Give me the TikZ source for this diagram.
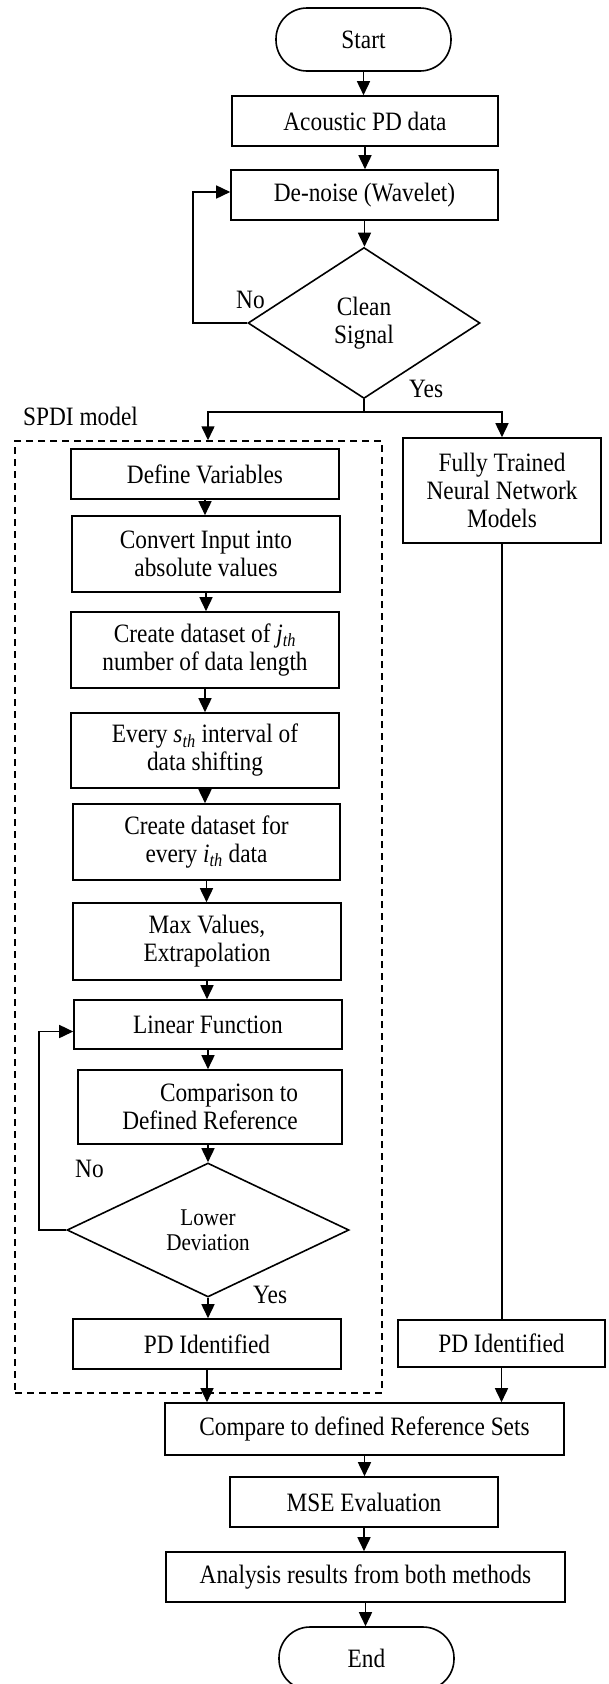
\documentclass[tikz,border=0pt]{standalone}
\usepackage{fontspec}
\setmainfont{Liberation Serif}[FakeStretch=0.88]
\usetikzlibrary{shapes.geometric,arrows.meta,calc}
\begin{document}
\begin{tikzpicture}[x=1pt,y=-1pt,
  txt/.style={font=\fontsize{26.5}{28}\selectfont},
  box/.style={draw,line width=1.6pt,rectangle,inner sep=0pt,align=center,txt},
  term/.style={box,rounded corners=31pt},
  dec/.style={draw,line width=1.6pt,diamond,inner sep=0pt,align=center},
  arr/.style={line width=1.6pt,-{Triangle[width=13pt,length=14pt]}},
  conn/.style={line width=1.6pt},
  lbl/.style={inner sep=0pt,anchor=base west,txt},
  dashbox/.style={draw,line width=1.5pt,dash pattern=on 7pt off 5pt,inner sep=0pt}]
\fill[white] (0,0) rectangle (608,1684);
\useasboundingbox (0,0) rectangle (608,1684);

% dashed container
\node[dashbox,minimum width=367pt,minimum height=952pt] (spdi) at (198.5,917) {};
\node[lbl] (spdilbl) at (23,425) {SPDI model};

% top part
\node[term,minimum width=175pt,minimum height=63pt] (start) at (363.5,39.5) {Start};
\node[box,minimum width=266pt,minimum height=50pt] (acoustic) at (365,121) {Acoustic PD data};
\node[box,minimum width=267pt,minimum height=50pt] (denoise) at (364.5,195) {De-noise (Wavelet)};
\node[dec,minimum width=232pt,minimum height=151pt,txt] (clean) at (364,323) {Clean\\Signal};
\node[lbl] (no1) at (236,308) {No};
\node[lbl] (yes1) at (409,397) {Yes};
\coordinate (sl) at (208,412);

% SPDI column
\node[box,minimum width=268pt,minimum height=50pt] (define) at (205,474) {Define Variables};
\node[box,minimum width=268pt,minimum height=76pt] (convert) at (206,554) {Convert Input into\\absolute values};
\node[box,minimum width=268pt,minimum height=76pt] (createj) at (205,650) {Create dataset of \textit{j}\textsubscript{\textit{th}}\\number of data length};
\node[box,minimum width=268pt,minimum height=75pt] (everys) at (205,750.5) {Every \textit{s}\textsubscript{\textit{th}} interval of\\data shifting};
\node[box,minimum width=267pt,minimum height=76pt] (createi) at (206.5,842) {Create dataset for\\every \textit{i}\textsubscript{\textit{th}} data};
\node[box,minimum width=268pt,minimum height=77pt] (maxval) at (207,941.5) {Max Values,\\Extrapolation};
\node[box,minimum width=268pt,minimum height=49pt] (linear) at (208,1024.5) {Linear Function};
\node[box,minimum width=264pt,minimum height=74pt] (compar) at (210,1107) {\hspace*{38pt}Comparison to\\Defined Reference};
\node[dec,minimum width=282pt,minimum height=134pt,font=\fontsize{24}{25}\selectfont] (lowdev) at (208,1230) {Lower\\Deviation};
\node[lbl] (no2) at (75,1177) {No};
\node[lbl] (yes2) at (253,1303) {Yes};
\node[box,minimum width=268pt,minimum height=50pt] (pdl) at (207,1344) {PD Identified};

% right column
\node[box,minimum width=198pt,minimum height=105pt] (ftnn) at (502,490.5) {Fully Trained\\Neural Network\\Models};
\node[box,minimum width=207pt,minimum height=47pt] (pdr) at (501.5,1343.5) {PD Identified};

% bottom part
\node[box,minimum width=399pt,minimum height=52pt] (compare) at (364.5,1429) {Compare to defined Reference Sets};
\node[box,minimum width=268pt,minimum height=50pt] (mse) at (364,1502) {MSE Evaluation};
\node[box,minimum width=399pt,minimum height=50pt] (analysis) at (365.5,1577) {Analysis results from both methods};
\node[term,minimum width=175pt,minimum height=63pt] (endn) at (366.5,1658.5) {End};

% connectors top
\draw[arr] (start.south) -- (start.south |- acoustic.north);
\draw[arr] (acoustic.south) -- (acoustic.south |- denoise.north);
\draw[arr] (denoise.south) -- (denoise.south |- clean.north);
\draw[arr] (clean.west) -- ++(-54,0) |- ([yshift=3pt]denoise.west);
\draw[arr] (clean.south) -- (clean.south |- sl) -| (sl |- spdi.north);
\draw[arr] (clean.south |- sl) -| (ftnn.north);

% SPDI connectors
\draw[arr] (define.south) -- (define.south |- convert.north);
\draw[arr] (convert.south) -- (convert.south |- createj.north);
\draw[arr] (createj.south) -- (createj.south |- everys.north);
\draw[arr] (everys.south) -- (everys.south |- createi.north);
\draw[arr] (createi.south) -- (createi.south |- maxval.north);
\draw[arr] (maxval.south) -- (maxval.south |- linear.north);
\draw[arr] (linear.south) -- (linear.south |- compar.north);
\draw[arr] (lowdev.north |- compar.south) -- (lowdev.north);
\draw[arr] (lowdev.west) -- ++(-27,0) |- ([yshift=-7pt]linear.west);
\draw[arr] (lowdev.south) -- (lowdev.south |- pdl.north);
\draw[arr] (pdl.south) -- (pdl.south |- compare.north);

% right connectors
\draw[conn] (ftnn.south) -- (ftnn.south |- pdr.north);
\draw[arr] (pdr.south) -- (pdr.south |- compare.north);

% bottom connectors
\draw[arr] (compare.south) -- (compare.south |- mse.north);
\draw[arr] (mse.south) -- (mse.south |- analysis.north);
\draw[arr] (analysis.south) -- (analysis.south |- endn.north);
\end{tikzpicture}
\end{document}
